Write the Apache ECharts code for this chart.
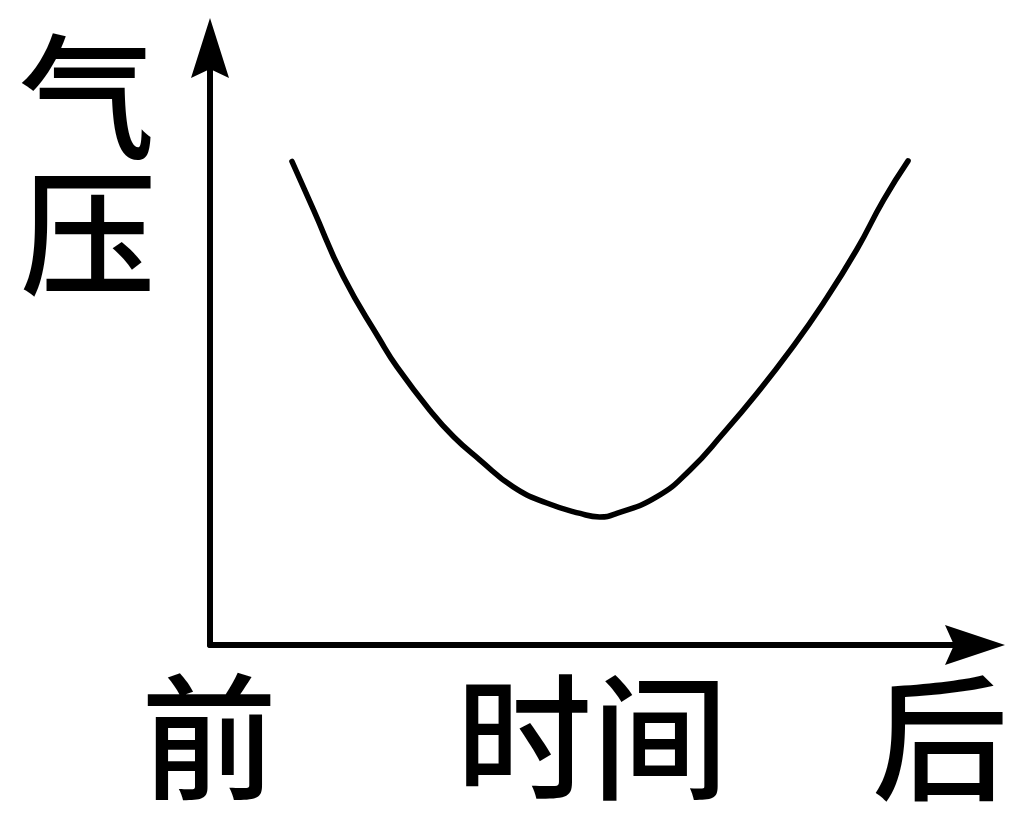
<!DOCTYPE html>
<html>
<head>
<meta charset="utf-8">
<script src="https://cdn.jsdelivr.net/npm/echarts@6/dist/echarts.min.js"></script>
<style>
html,body{margin:0;padding:0;background:#fff;}
#chart{width:1030px;height:818px;}
</style>
</head>
<body>
<div id="chart"></div>
<script>
// Time (relative, 0-100) and pressure (relative, 0-100)
const timeValues = [11.0, 13.9, 17.9, 22.8, 25.1, 29.5, 32.7, 36.2, 40.7, 45.2, 49.7, 52.3, 54.6, 60.0, 64.4, 68.9, 73.4, 77.9, 82.3, 86.8, 90.4, 93.7];
const pressureValues = [83.8, 75.4, 63.8, 52.9, 48.2, 40.7, 36.1, 32.1, 27.4, 24.6, 22.8, 22.2, 22.8, 25.7, 30.3, 36.7, 43.6, 51.1, 59.2, 68.5, 77.1, 83.9];
const yAxisTitle = ['气', '压'];
const xStartLabel = '前';
const xAxisTitle = '时间';
const xEndLabel = '后';
const axisMin = 0;
const axisMax = 100;

const curve = timeValues.map((t, i) => [t, pressureValues[i]]);
const font = '"Noto Sans CJK SC", sans-serif';
const arrowPath = 'path://M0,0 L19,60 L0,51 L-19,60 Z';
const txt = (text, x, y) => ({ type: 'text', x: x, y: y, style: { text: text, font: '500 136px ' + font, fill: '#000', align: 'center', verticalAlign: 'middle' } });

const chart = echarts.init(document.getElementById('chart'));
chart.setOption({
  backgroundColor: '#ffffff',
  animation: false,
  grid: { left: 210, right: 75, top: 68, bottom: 173 },
  xAxis: {
    type: 'value', min: axisMin, max: axisMax,
    axisLine: { show: true, onZero: false, lineStyle: { color: '#000', width: 6 } },
    axisTick: { show: false }, axisLabel: { show: false }, splitLine: { show: false }
  },
  yAxis: {
    type: 'value', min: axisMin, max: axisMax,
    axisLine: { show: true, onZero: false, lineStyle: { color: '#000', width: 6 } },
    axisTick: { show: false }, axisLabel: { show: false }, splitLine: { show: false }
  },
  series: [{
    type: 'line',
    data: curve,
    smooth: 0.5,
    showSymbol: false,
    lineStyle: { color: '#000', width: 5.5, cap: 'round' }
  }, {
    type: 'scatter',
    clip: false,
    silent: true,
    data: [
      { value: [axisMax, axisMin], symbol: arrowPath, symbolSize: [40, 60], symbolRotate: -90, symbolOffset: [20, 0] },
      { value: [axisMin, axisMax], symbol: arrowPath, symbolSize: [38, 60], symbolRotate: 0, symbolOffset: [0, -20] }
    ],
    itemStyle: { color: '#000', opacity: 1 }
  }],
  graphic: [
    txt(yAxisTitle[0], 87, 97),
    txt(yAxisTitle[1], 88, 233),
    txt(xStartLabel, 209, 737),
    txt(xAxisTitle, 592, 737),
    txt(xEndLabel, 940, 738)
  ]
});
</script>
</body>
</html>
